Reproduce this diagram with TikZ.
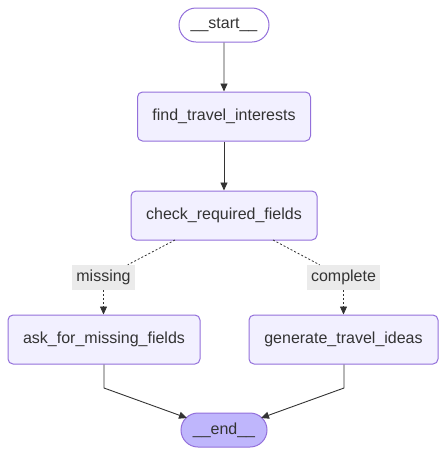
\documentclass[tikz,border=0pt]{standalone}
\usepackage{fontspec}
\setmainfont{Liberation Sans}
\usetikzlibrary{arrows.meta,shapes.misc}
\definecolor{nodefill}{HTML}{F2F0FF}
\definecolor{nodestroke}{HTML}{9370DB}
\definecolor{endfill}{HTML}{BFB6FC}
\definecolor{txt}{HTML}{333333}
\definecolor{lblfill}{HTML}{EBEBEB}
\tikzset{
  box/.style={draw=nodestroke, fill=nodefill, line width=1pt, rounded corners=5pt,
    minimum height=49pt, inner xsep=0pt, text=txt, font=\fontsize{16}{19}\selectfont},
  pill/.style={draw=nodestroke, line width=1pt, rounded rectangle,
    minimum height=34pt, inner xsep=0pt, text=txt, font=\fontsize{16}{19}\selectfont},
  lbl/.style={fill=lblfill, inner sep=0pt, minimum height=25pt, text=txt,
    font=\fontsize{16}{19}\selectfont},
  edge/.style={draw=txt, line width=0.9pt, -{Triangle[length=8pt,width=7pt]}},
  dot/.style={draw=txt, line width=0.8pt, dash pattern=on 2pt off 2pt},
}
\begin{document}
\begin{tikzpicture}[x=1pt,y=-1pt]
\useasboundingbox (0,0) rectangle (446,456);
\node[pill, fill=white, minimum width=90pt] (start) at (224,25) {\_\_start\_\_};
\node[box, minimum width=173pt] (find) at (224,116.5) {find\_travel\_interests};
\node[box, minimum width=186pt] (check) at (224,215.5) {check\_required\_fields};
\node[box, minimum width=192pt] (ask) at (104,339.5) {ask\_for\_missing\_fields};
\node[box, minimum width=189pt] (gen) at (343.5,339.5) {generate\_travel\_ideas};
\node[pill, fill=endfill, minimum width=86pt] (end) at (224,430) {\_\_end\_\_};
\node[lbl, minimum width=63pt] (lmiss) at (103.5,277.5) {missing};
\node[lbl, minimum width=73pt] (lcomp) at (343.5,277.5) {complete};
\coordinate (c1) at (175,240);
\coordinate (c2) at (273,240);
\coordinate (a1) at (104,388);
\coordinate (g1) at (344,388);
\draw[edge] (start) -- (find);
\draw[edge] (find) -- (check);
\draw[dot] (c1) -- (lmiss);
\draw[dot, -{Triangle[length=8pt,width=7pt]}] (lmiss.south) -- (lmiss.south |- ask.north);
\draw[dot] (c2) -- (lcomp);
\draw[dot, -{Triangle[length=8pt,width=7pt]}] (lcomp.south) -- (lcomp.south |- gen.north);
\draw[edge] (ask.south -| a1) -- (a1) -- (187,418);
\draw[edge] (gen.south -| g1) -- (g1) -- (261,418);
\end{tikzpicture}
\end{document}
